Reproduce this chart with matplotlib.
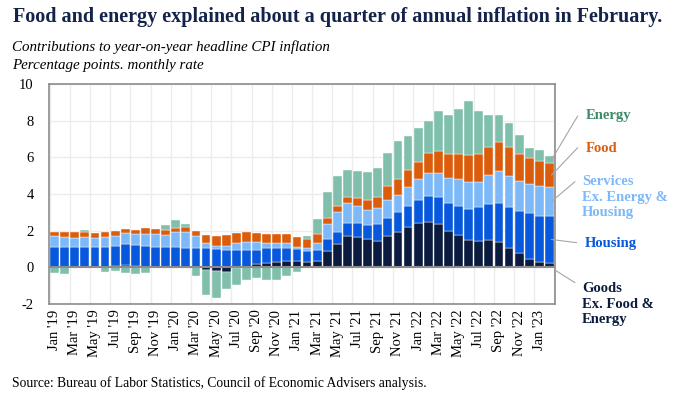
import numpy as np
import matplotlib.pyplot as plt

plt.rcParams["font.family"] = ["Liberation Serif", "DejaVu Serif"]

months = ["Jan", "Feb", "Mar", "Apr", "May", "Jun",
          "Jul", "Aug", "Sep", "Oct", "Nov", "Dec"]
dates = [f"{months[i % 12]} '{19 + i // 12}" for i in range(50)]

goods = [0.03, 0.02, 0.02, 0.02, 0.00, 0.02, 0.05, 0.15, 0.10, 0.03, 0.02, 0.02,
         0.02, 0.00, 0.00, -0.15, -0.20, -0.24, -0.05, 0.02, 0.20, 0.25, 0.31, 0.36,
         0.33, 0.27, 0.36, 0.89, 1.29, 1.71, 1.67, 1.55, 1.44, 1.71, 1.93, 2.20,
         2.42, 2.49, 2.36, 2.00, 1.76, 1.47, 1.44, 1.47, 1.38, 1.05, 0.76, 0.47,
         0.27, 0.24]
housing = [1.06, 1.07, 1.07, 1.07, 1.09, 1.11, 1.13, 1.14, 1.14, 1.15, 1.11, 1.11,
           1.11, 1.05, 1.05, 1.04, 1.00, 0.96, 0.96, 0.94, 0.76, 0.79, 0.73, 0.68,
           0.67, 0.64, 0.60, 0.66, 0.66, 0.73, 0.75, 0.76, 0.92, 0.98, 1.09, 1.15,
           1.27, 1.40, 1.46, 1.51, 1.60, 1.73, 1.83, 1.97, 2.15, 2.22, 2.31, 2.49,
           2.53, 2.56]
services = [0.62, 0.58, 0.51, 0.58, 0.53, 0.54, 0.55, 0.58, 0.58, 0.62, 0.69, 0.65,
            0.78, 0.90, 0.68, 0.27, 0.18, 0.22, 0.37, 0.40, 0.40, 0.27, 0.27, 0.27,
            0.10, 0.13, 0.37, 0.80, 1.07, 1.07, 0.94, 0.84, 0.88, 0.98, 0.94, 1.05,
            1.13, 1.24, 1.31, 1.36, 1.44, 1.47, 1.40, 1.58, 1.72, 1.69, 1.64, 1.60,
            1.64, 1.58]
food = [0.22, 0.24, 0.31, 0.24, 0.25, 0.24, 0.23, 0.20, 0.23, 0.33, 0.29, 0.26,
        0.22, 0.23, 0.27, 0.45, 0.55, 0.58, 0.56, 0.59, 0.53, 0.51, 0.51, 0.53,
        0.55, 0.51, 0.49, 0.34, 0.33, 0.34, 0.42, 0.52, 0.61, 0.75, 0.88, 0.91,
        0.94, 1.11, 1.23, 1.33, 1.40, 1.46, 1.53, 1.54, 1.57, 1.59, 1.49, 1.40,
        1.36, 1.29]
energy = [-0.33, -0.38, -0.03, 0.13, -0.05, -0.24, -0.18, -0.33, -0.36, -0.31, -0.02, 0.29,
          0.45, 0.18, -0.45, -1.36, -1.45, -0.94, -0.91, -0.67, -0.58, -0.71, -0.71, -0.45,
          -0.24, 0.14, 0.80, 1.44, 1.61, 1.48, 1.49, 1.53, 1.55, 1.83, 2.03, 1.84,
          1.84, 1.72, 2.19, 2.09, 2.44, 2.96, 2.35, 1.75, 1.49, 1.30, 1.02, 0.53,
          0.60, 0.38]

series = [
    ("Goods\nEx. Food &\nEnergy", goods, "#0b1b3f"),
    ("Housing", housing, "#0758dc"),
    ("Services\nEx. Energy &\nHousing", services, "#7db8f8"),
    ("Food", food, "#db5c0a"),
    ("Energy", energy, "#7fbfab"),
]
label_colors = ["#0b1b3f", "#0758dc", "#7db8f8", "#db5c0a", "#3f8a6b"]

x = np.arange(len(dates))
fig = plt.figure(figsize=(6.8, 3.97), dpi=100)
ax = fig.add_axes([49 / 680, 1 - 304 / 397, 506 / 680, 220 / 397])

pos = np.zeros(len(x))
neg = np.zeros(len(x))
mids = []
for name, vals, col in series:
    v = np.array(vals)
    bottom = np.where(v >= 0, pos, neg)
    ax.bar(x, v, 0.88, bottom=bottom, color=col, edgecolor="#ffffff",
           linewidth=0.3, zorder=2)
    mids.append(bottom[-1] + v[-1] / 2)
    pos = pos + np.clip(v, 0, None)
    neg = neg + np.clip(v, None, 0)

ax.set_xlim(-0.55, len(x) - 0.45)
ax.set_ylim(-2, 10)
ax.set_yticks(range(-2, 11, 2))
ax.set_yticklabels([str(t) for t in range(-2, 11, 2)], fontsize=10.5)
ax.set_xticks(x[::2])
ax.set_xticklabels(dates[::2], rotation=90, fontsize=10.5)
ax.set_xticks(np.arange(-0.5, len(x), 2), minor=True)
ax.tick_params(length=0, which="both", pad=4)
ax.tick_params(axis="y", pad=11)
ax.grid(True, which="minor", axis="x", color="#ececec", lw=1, zorder=0)
ax.grid(True, which="major", axis="y", color="#ececec", lw=1, zorder=0)
ax.axhline(0, color="#8c8c8c", lw=1.5, zorder=3)
for s in ax.spines.values():
    s.set_color("#8c8c8c")
    s.set_linewidth(1.2)

# labels on the right with leader lines
text_pos = [(582, 93), (585, 153), (582, 200), (586, 248.7), (586, 282)]
line_start = [(575, 114.3), (576.7, 154.3), (575, 215.3), (577.7, 249.3), (577.7, 281)]
for (name, vals, col), lc, tp, ls, m in zip(series, label_colors, text_pos, line_start, mids):
    ax.annotate("", xy=(len(x) - 0.45 if name.startswith("Goods") else len(x) - 1 + 0.2,
                        -0.15 if name.startswith("Goods") else m),
                xytext=ls, textcoords="figure pixels",
                arrowprops=dict(arrowstyle="-", color="#a6a6a6", lw=0.8,
                                shrinkA=0, shrinkB=0),
                annotation_clip=False)
    fig.text(tp[0] / 680, tp[1] / 397, name, color=lc, fontsize=10.5,
             fontweight="bold", ha="left", va="center", linespacing=1.25)

fig.text(13 / 680, 1 - 17 / 397,
         "Food and energy explained about a quarter of annual inflation in February.",
         fontsize=14.5, fontweight="bold", color="#14234b", ha="left", va="center")
fig.text(12 / 680, 1 - 47 / 397, "Contributions to year-on-year headline CPI inflation",
         fontsize=10.8, style="italic", ha="left", va="center")
fig.text(12 / 680, 1 - 65 / 397, "Percentage points. monthly rate",
         fontsize=10.8, style="italic", ha="left", va="center")
fig.text(12 / 680, 1 - 383 / 397,
         "Source: Bureau of Labor Statistics, Council of Economic Advisers analysis.",
         fontsize=9.8, ha="left", va="center")

fig.savefig("out.png", dpi=100)
